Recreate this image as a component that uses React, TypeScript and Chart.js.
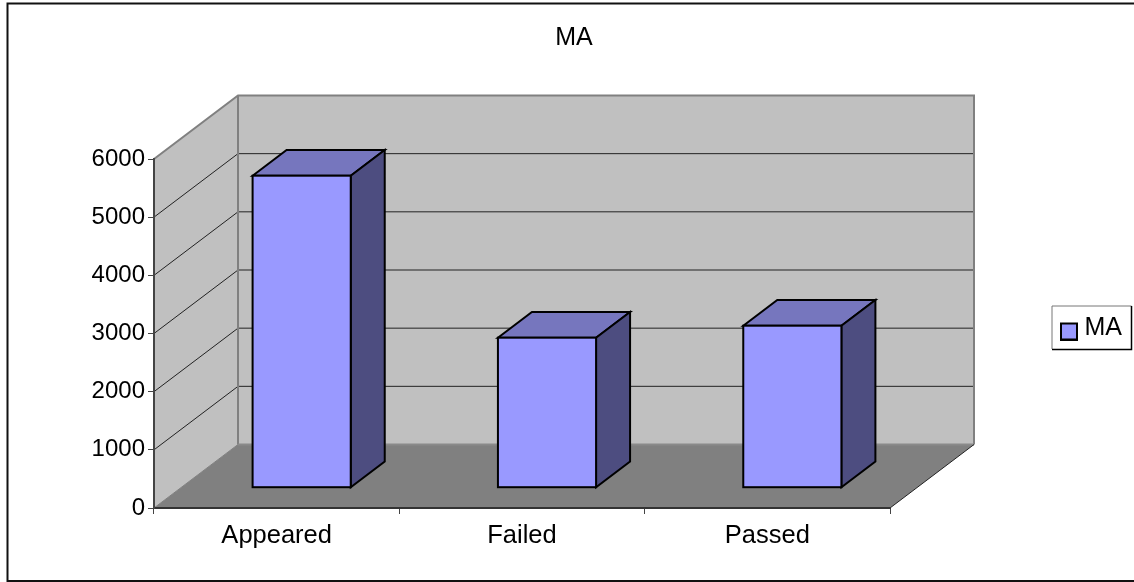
import React, { useEffect, useRef } from "react";
import { Chart, registerables } from "chart.js";

Chart.register(...registerables);

const categories = ["Appeared", "Failed", "Passed"];
const seriesName = "MA";
const seriesValues = [5364, 2579, 2785];
const yTicks = { min: 0, max: 6000, step: 1000 };

const FONT = "'Liberation Sans', Arial, sans-serif";
const WALL_DX = 84;
const WALL_DY = -63.5;
const BAR_DX = 34;
const BAR_DY = -25.7;
const SHIFT_X = 25;
const SHIFT_Y = -20.3;
const FRONT = "#9999FF";
const TOP = "#7676BE";
const SIDE = "#4D4D80";

function poly(ctx: CanvasRenderingContext2D, pts: number[][], fill?: string, stroke?: string, lw = 1) {
  ctx.beginPath();
  pts.forEach((p, i) => (i ? ctx.lineTo(p[0], p[1]) : ctx.moveTo(p[0], p[1])));
  ctx.closePath();
  if (fill) { ctx.fillStyle = fill; ctx.fill(); }
  if (stroke) { ctx.strokeStyle = stroke; ctx.lineWidth = lw; ctx.lineJoin = "miter"; ctx.stroke(); }
}
function line(ctx: CanvasRenderingContext2D, pts: number[][], stroke: string, lw = 1) {
  ctx.beginPath();
  pts.forEach((p, i) => (i ? ctx.lineTo(p[0], p[1]) : ctx.moveTo(p[0], p[1])));
  ctx.strokeStyle = stroke; ctx.lineWidth = lw; ctx.stroke();
}

function makeSwatch() {
  const c = document.createElement("canvas");
  c.width = 18; c.height = 25;
  const g = c.getContext("2d") as CanvasRenderingContext2D;
  g.fillStyle = FRONT; g.fillRect(1, 8, 16, 16);
  g.strokeStyle = "#000"; g.lineWidth = 2; g.strokeRect(1, 8, 16, 16);
  return c;
}

const scene3d = {
  id: "scene3d",
  afterLayout(chart: any) {
    const t = chart.titleBlock;
    t.left = 14; t.right = 1134; t.top = 23.5; t.bottom = 53.5;
    const l = chart.legend;
    const w = l.width, h = l.height;
    l.left = 1056; l.right = l.left + w; l.top = 328 - h / 2; l.bottom = l.top + h;
  },
  beforeDraw(chart: any) {
    const { ctx, chartArea: a, scales: { y } } = chart;
    const { left: L, right: R, top: T, bottom: B } = a;
    const dx = WALL_DX, dy = WALL_DY;
    ctx.save();
    // page frame
    line(ctx, [[1134, 3.5], [7.5, 3.5], [7.5, 581], [1134, 581]], "#111", 2);
    // walls and floor
    poly(ctx, [[L, B], [L + dx, B + dy], [L + dx, T + dy], [L, T]], "#C0C0C0");
    poly(ctx, [[L + dx, T + dy], [R + dx, T + dy], [R + dx, B + dy], [L + dx, B + dy]], "#C0C0C0");
    poly(ctx, [[L, B], [L + dx, B + dy], [R + dx, B + dy], [R, B]], "#808080");
    // gridlines on both walls
    y.ticks.forEach((tk: any) => {
      if (tk.value === yTicks.min || tk.value === yTicks.max) return;
      const py = y.getPixelForValue(tk.value);
      line(ctx, [[L, py], [L + dx, py + dy], [R + dx, py + dy]], "#222", 1);
    });
    // wall edges
    line(ctx, [[L, T], [L + dx, T + dy], [R + dx, T + dy], [R + dx, B + dy]], "#808080", 2);
    line(ctx, [[L + dx, T + dy], [L + dx, B + dy]], "#808080", 2);
    line(ctx, [[L + dx, B + dy], [R + dx, B + dy]], "#8a8a8a", 2);
    line(ctx, [[L, B], [L + dx, B + dy]], "#808080", 1);
    line(ctx, [[R, B], [R + dx, B + dy]], "#222", 1);
    // legend frame
    line(ctx, [[1052, 349], [1052, 306], [1131.5, 306]], "#777", 1);
    line(ctx, [[1131.5, 306], [1131.5, 349.5], [1052, 349.5]], "#000", 1.5);
    ctx.restore();
  },
  beforeDatasetDraw(chart: any, args: any) {
    const { ctx } = chart;
    ctx.save();
    ctx.translate(SHIFT_X, SHIFT_Y);
    args.meta.data.forEach((b: any) => {
      const x0 = b.x - b.width / 2, x1 = b.x + b.width / 2, y0 = b.y, y1 = b.base;
      poly(ctx, [[x0, y0], [x0 + BAR_DX, y0 + BAR_DY], [x1 + BAR_DX, y0 + BAR_DY], [x1, y0]], TOP, "#000", 2);
      poly(ctx, [[x1, y0], [x1 + BAR_DX, y0 + BAR_DY], [x1 + BAR_DX, y1 + BAR_DY], [x1, y1]], SIDE, "#000", 2);
    });
  },
  afterDatasetDraw(chart: any, args: any) {
    const { ctx } = chart;
    args.meta.data.forEach((b: any) => {
      ctx.strokeStyle = "#000";
      ctx.lineWidth = 2;
      ctx.strokeRect(b.x - b.width / 2, b.y, b.width, b.base - b.y);
    });
    ctx.restore();
  },
};

export default function App() {
  const ref = useRef<HTMLCanvasElement>(null);
  useEffect(() => {
    document.body.style.margin = "0";
    document.body.style.background = "#fff";
    const swatch = makeSwatch();
    const chart = new Chart(ref.current as HTMLCanvasElement, {
      type: "bar",
      data: {
        labels: categories,
        datasets: [{ label: seriesName, data: seriesValues, backgroundColor: FRONT, borderWidth: 0,
          barPercentage: 0.4, categoryPercentage: 1 }],
      },
      plugins: [scene3d],
      options: {
        responsive: false,
        animation: false,
        layout: { padding: { top: 129, left: 0, right: 168, bottom: 0 } },
        plugins: {
          tooltip: { enabled: false },
          title: { display: true, text: seriesName, color: "#000", padding: 0,
            font: { family: FONT, size: 25, weight: "normal", lineHeight: 1.2 } },
          legend: {
            position: "right",
            labels: {
              color: "#000", usePointStyle: true, pointStyleWidth: 6, boxHeight: 16, padding: 10,
              font: { family: FONT, size: 25 },
              generateLabels: () => [{ text: seriesName, pointStyle: swatch, fillStyle: FRONT, strokeStyle: "#000", lineWidth: 2, hidden: false, datasetIndex: 0 }],
            },
          },
        },
        scales: {
          x: {
            afterFit: (s: any) => { s.height = 74; },
            grid: { offset: true, drawOnChartArea: false, drawTicks: true, tickLength: 6, color: "#444" },
            border: { display: true, color: "#333", width: 2 },
            ticks: { color: "#000", padding: 7, maxRotation: 0, font: { family: FONT, size: 25.5 } },
          },
          y: {
            min: yTicks.min, max: yTicks.max,
            afterFit: (s: any) => { s.width = 154; },
            grid: { drawOnChartArea: false, drawTicks: true, tickLength: 6, color: "#444" },
            border: { display: true, color: "#444", width: 2 },
            ticks: { color: "#000", stepSize: yTicks.step, padding: 3, font: { family: FONT, size: 24 },
              callback: (v: any) => String(v) },
          },
        },
      } as any,
    });
    return () => chart.destroy();
  }, []);
  return <canvas ref={ref} width={1134} height={582} style={{ display: "block", width: 1134, height: 582 }} />;
}
